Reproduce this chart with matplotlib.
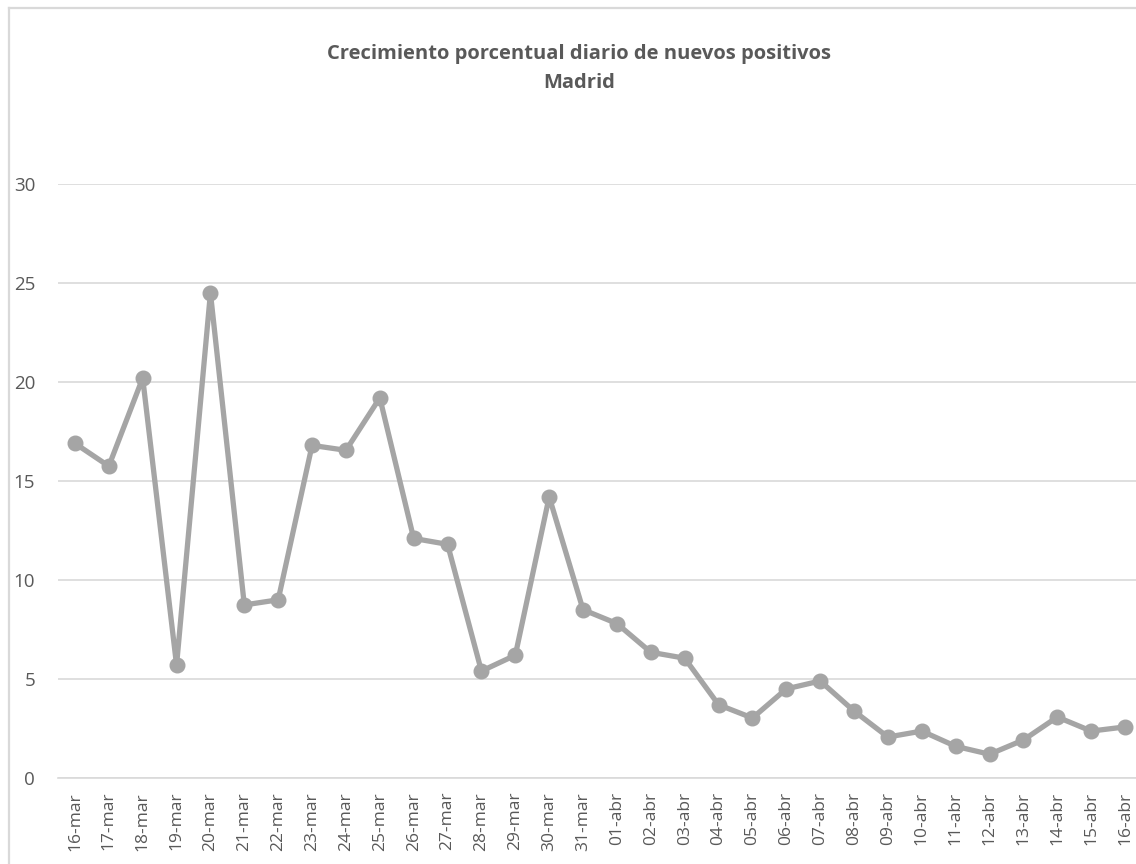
import matplotlib
matplotlib.use("Agg")
import matplotlib.pyplot as plt
from matplotlib.lines import Line2D

fechas = ["16-mar", "17-mar", "18-mar", "19-mar", "20-mar", "21-mar", "22-mar", "23-mar",
          "24-mar", "25-mar", "26-mar", "27-mar", "28-mar", "29-mar", "30-mar", "31-mar",
          "01-abr", "02-abr", "03-abr", "04-abr", "05-abr", "06-abr", "07-abr", "08-abr",
          "09-abr", "10-abr", "11-abr", "12-abr", "13-abr", "14-abr", "15-abr", "16-abr"]
crecimiento = [16.9, 15.75, 20.2, 5.7, 24.5, 8.74, 9.0, 16.8,
               16.55, 19.2, 12.1, 11.8, 5.4, 6.2, 14.2, 8.5,
               7.8, 6.35, 6.05, 3.7, 3.03, 4.5, 4.9, 3.38,
               2.07, 2.37, 1.6, 1.2, 1.92, 3.08, 2.37, 2.58]
yticks = [0, 5, 10, 15, 20, 25, 30]

plt.rcParams['font.family'] = ['Open Sans', 'DejaVu Sans']

W, H = 1136, 864
fig = plt.figure(figsize=(W / 100, H / 100), dpi=100)

left_px, right_px = 58, 1142
bot_px, top_px = 778, 184
ax = fig.add_axes([left_px / W, (H - bot_px) / H, (right_px - left_px) / W, (bot_px - top_px) / H])

x = list(range(len(fechas)))
ax.plot(x, crecimiento, color="#A5A5A5", linewidth=3.8, marker="o", markersize=10.5,
        markerfacecolor="#A5A5A5", markeredgecolor="#A5A5A5", solid_capstyle="round",
        zorder=3, clip_on=False)

ax.set_xlim(-0.5, len(fechas) - 0.5)
ax.set_ylim(0, 30)
ax.set_yticks(yticks)
ax.set_yticklabels([str(v) for v in yticks])
ax.set_xticks(x)
ax.set_xticklabels(fechas, rotation=90)
ax.yaxis.grid(True, color="#D9D9D9", linewidth=1.2)
ax.set_axisbelow(True)
for s in ["top", "right", "left"]:
    ax.spines[s].set_visible(False)
ax.spines["bottom"].set_color("#D9D9D9")
ax.spines["bottom"].set_linewidth(1.2)
ax.tick_params(axis="both", length=0, colors="#595959")
ax.tick_params(axis="x", labelsize=12.5, pad=10)
ax.tick_params(axis="y", labelsize=13.5, pad=16.5)

fig.text(579 / W, 1 - 69 / H, "Crecimiento porcentual diario de nuevos positivos\nMadrid",
         ha="center", va="center", fontsize=14.5, fontweight="bold", color="#595959",
         linespacing=1.6)

# chart border (partially visible)
fig.add_artist(Line2D([8.5 / W, 8.5 / W], [1 - 7.5 / H, 0], transform=fig.transFigure,
                      color="#D9D9D9", linewidth=1.6))
fig.add_artist(Line2D([8.5 / W, 1], [1 - 7.5 / H, 1 - 7.5 / H], transform=fig.transFigure,
                      color="#D9D9D9", linewidth=1.6))

fig.savefig("out.png", dpi=100, facecolor="white")
